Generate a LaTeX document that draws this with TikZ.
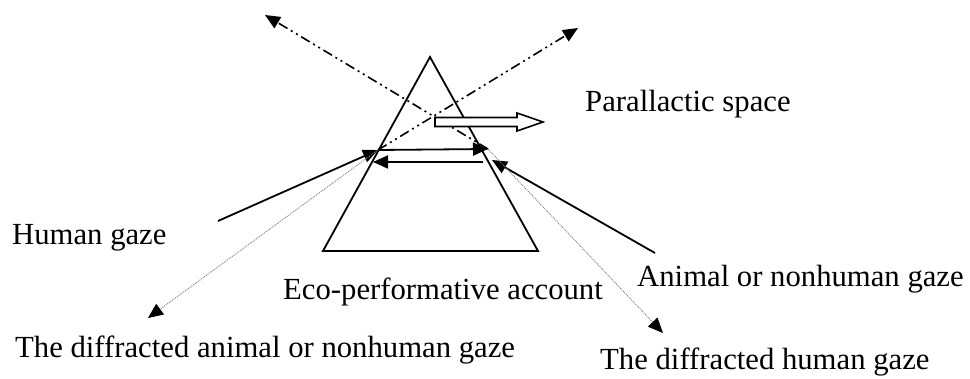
\documentclass[tikz,border=0pt]{standalone}
\usepackage{fontspec}
\setmainfont{Liberation Serif}
\usetikzlibrary{arrows.meta}
\begin{document}
\begin{tikzpicture}[x=1pt,y=-1pt,
  solidline/.style={line width=1.8pt},
  tipend/.style={-{Triangle[length=15pt,width=13pt,color=black]}},
  dashdotline/.style={line width=1.6pt, dash pattern=on 10pt off 4pt on 2pt off 4pt on 2pt off 4pt},
  dotline/.style={line width=0.9pt, gray, dash pattern=on 1pt off 1pt},
  lbl/.style={anchor=base west, inner sep=0pt, font=\fontsize{30.7}{36}\selectfont}]
\useasboundingbox (0,0) rectangle (970,379);
% prism
\coordinate (apex) at (430,57);
\coordinate (bl) at (323,251);
\coordinate (br) at (538,251);
\draw[solidline, line join=miter] (apex) -- (bl) -- (br) -- cycle;
% key points
\coordinate (L) at (378,150);
\coordinate (R) at (488,149);
\coordinate (Llow) at (373,162);
\coordinate (Rlow) at (483,162);
\coordinate (Rin) at (492,160);
\coordinate (hstart) at (218,221);
\coordinate (astart) at (655,253);
\coordinate (tl) at (265,15);
\coordinate (tr) at (578,28);
\coordinate (dl) at (148,318);
\coordinate (dr) at (663,333);
% gazes
\draw[solidline, tipend] (hstart) -- (L);
\draw[solidline, tipend] (astart) -- (Rin);
% internal arrows
\draw[solidline, tipend] (L) -- (R);
\draw[solidline, tipend] (Rlow) -- (Llow);
% dash-dot rays
\draw[dashdotline, tipend] (R) -- (tl);
\draw[dashdotline, tipend] (L) -- (tr);
% diffracted dotted rays
\draw[dotline, tipend] (L) -- (dl);
\draw[dotline, tipend] (R) -- (dr);
% parallactic space block arrow
\draw[line width=1.6pt, fill=white, line join=miter]
  (435,117.5) -- (517,117.5) -- (517,113) -- (543,122) -- (517,131) -- (517,126.5) -- (435,126.5) -- cycle;
% labels
\node[lbl] (par) at (585,112) {Parallactic space};
\node[lbl] (hum) at (12,245) {Human gaze};
\node[lbl] (eco) at (283,300) {Eco-performative account};
\node[lbl] (ani) at (637,287) {Animal or nonhuman gaze};
\node[lbl] (dan) at (15,358) {The diffracted animal or nonhuman gaze};
\node[lbl] (dhu) at (600,370) {The diffracted human gaze};
\end{tikzpicture}
\end{document}
